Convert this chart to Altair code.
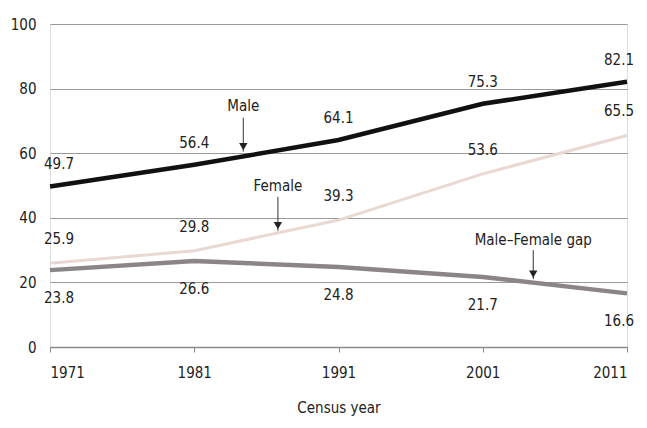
import altair as alt
import pandas as pd

years = [1971, 1981, 1991, 2001, 2011]
male = [49.7, 56.4, 64.1, 75.3, 82.1]
female = [25.9, 29.8, 39.3, 53.6, 65.5]
gap = [23.8, 26.6, 24.8, 21.7, 16.6]

ann_text = ["Male", "Female", "Male\u2013Female gap"]
ann_year = [1984.4, 1986.8, 2004.5]
ann_text_y = [74.5, 50.0, 33.0]
ann_arrow_top = [71.0, 46.5, 30.0]
ann_arrow_tip = [60.5, 36.0, 21.0]

FONT = "'DejaVu Sans Condensed', 'Liberation Sans', sans-serif"
FS = 15

rows = []
for s, vals in (("Female", female), ("Gap", gap), ("Male", male)):
    for y, v in zip(years, vals):
        rows.append({"series": s, "year": y, "value": v})
df = pd.DataFrame(rows)

ann = pd.DataFrame({"text": ann_text, "year": ann_year, "ty": ann_text_y,
                    "top": ann_arrow_top, "tip": ann_arrow_tip})

x = alt.X("year:Q", scale=alt.Scale(domain=[1971, 2011], nice=False, zero=False),
          axis=alt.Axis(values=years, format="d", title="Census year", grid=False,
                        domainColor="#8a8a8a", domainWidth=1.5, tickColor="#8a8a8a",
                        tickSize=5, labelPadding=13, titlePadding=20,
                        labelFont=FONT, labelFontSize=FS, labelColor="#222",
                        titleFont=FONT, titleFontSize=FS, titleColor="#222",
                        titleFontWeight="normal"))
y = alt.Y("value:Q", scale=alt.Scale(domain=[0, 100], nice=False),
          axis=alt.Axis(values=[0, 20, 40, 60, 80, 100], title=None, grid=True,
                        gridColor="#9a9a9a", gridWidth=1, domain=False, ticks=False,
                        labelPadding=14, labelFont=FONT, labelFontSize=FS,
                        labelColor="#222"))

base = alt.Chart(df)

colors = {"Female": "#ead8d2", "Gap": "#8c8586", "Male": "#111111"}
widths = {"Female": 3, "Gap": 4.5, "Male": 4.5}

layers = []
for s in ("Female", "Gap", "Male"):
    layers.append(base.transform_filter(alt.datum.series == s)
                  .mark_line(color=colors[s], strokeWidth=widths[s], interpolate="linear")
                  .encode(x=x, y=y))

dys = {"Male": -22, "Female": -24, "Gap": 28}
for s in ("Male", "Female", "Gap"):
    for cond, align, dx in ((alt.datum.year == 1971, "left", -6),
                            ((alt.datum.year > 1971) & (alt.datum.year < 2011), "center", 0),
                            (alt.datum.year == 2011, "center", -8)):
        layers.append(base.transform_filter(alt.datum.series == s).transform_filter(cond)
                      .mark_text(font=FONT, fontSize=FS, color="#222", align=align,
                                 dx=dx, dy=dys[s])
                      .encode(x=x, y=y, text=alt.Text("value:Q", format=".1f")))

a = alt.Chart(ann)
layers.append(a.mark_text(font=FONT, fontSize=FS, color="#222")
              .encode(x="year:Q", y="ty:Q", text="text:N"))
layers.append(a.mark_rule(color="#333", strokeWidth=1)
              .encode(x="year:Q", y="top:Q", y2="tip:Q"))
layers.append(a.mark_point(shape="triangle-down", filled=True, color="#222", size=70,
                           opacity=1, yOffset=-5)
              .encode(x="year:Q", y="tip:Q"))

chart = alt.layer(*layers).properties(
    width=577, height=323,
    autosize=alt.AutoSizeParams(type="none"),
    padding={"left": 42, "top": 16, "right": 12, "bottom": 80},
).configure_view(stroke=None).configure(background="white")

chart.save("out.html", embed_options={"renderer": "svg", "actions": False})
